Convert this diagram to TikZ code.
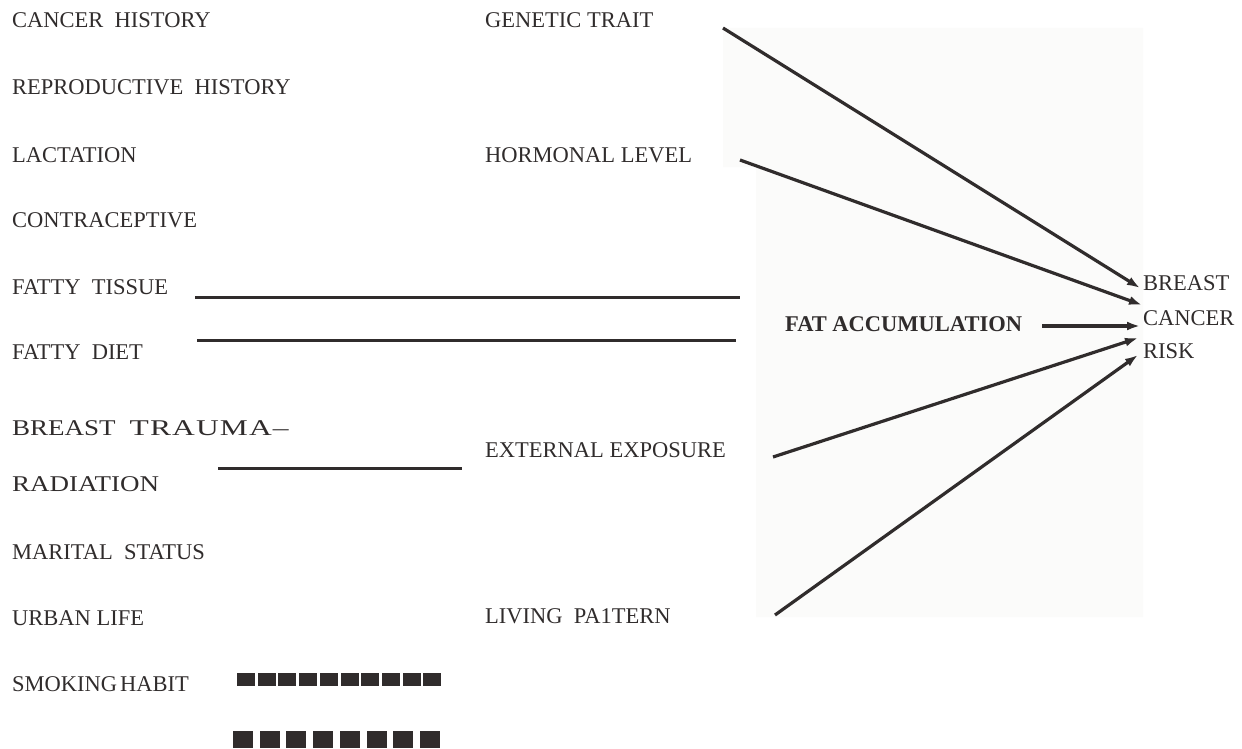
\documentclass[tikz,border=0pt]{standalone}
\usepackage{fontspec}
\setmainfont{Liberation Serif}
\newfontfamily\widefont[FakeStretch=1.2]{Liberation Serif}
\newfontfamily\widerfont[FakeStretch=1.4,LetterSpace=5]{Liberation Serif}
\usetikzlibrary{arrows.meta,calc}
\definecolor{ink}{RGB}{48,44,44}
\definecolor{scan}{RGB}{251,251,250}
\newcommand\dsp{\hspace{0.5em}}
\begin{document}
\begin{tikzpicture}[x=1pt,y=-1pt,
  lbl/.style={anchor=base west,inner sep=0pt,text=ink,font=\fontsize{22.5}{27}\selectfont},
  widelbl/.style={lbl,font=\fontsize{22.5}{27}\selectfont\widefont},
  boldlbl/.style={lbl,font=\fontsize{22.5}{27}\selectfont\bfseries},
  bar/.style={draw=ink,line width=3pt},
  arr/.style={draw=ink,line width=3.2pt,-{Latex[length=13pt,width=9pt]}},
  sq/.style={fill=ink,draw=none}]
\useasboundingbox (0,0) rectangle (1242,749);
% faint scanned background
\fill[scan] (723,28) -- (1143,28) -- (1143,617) -- (756,617) -- (756,167) -- (723,167) -- cycle;

% left column
\node[lbl] (cancerhist) at (12,28) {CANCER\dsp HISTORY};
\node[lbl] (repro) at (12,95) {REPRODUCTIVE\dsp HISTORY};
\node[lbl] (lact) at (12,162) {LACTATION};
\node[lbl] (contra) at (12,227) {CONTRACEPTIVE};
\node[lbl] (ftissue) at (12,294) {FATTY\dsp TISSUE};
\node[lbl] (fdiet) at (12,359) {FATTY\dsp DIET};
\node[widelbl] (trauma) at (12,435) {BREAST\hspace{14pt}{\widerfont TRAUMA–}};
\node[widelbl] (radiation) at (12,491) {RADIATION};
\node[lbl] (marital) at (12,559) {MARITAL\dsp STATUS};
\node[lbl] (urban) at (12,625) {URBAN LIFE};
\node[lbl] (smoking) at (12,691) {SMOKING\hspace{3pt}HABIT};

% middle column
\node[lbl] (genetic) at (485,28) {GENETIC TRAIT};
\node[lbl] (hormonal) at (485,162) {HORMONAL LEVEL};
\node[lbl] (external) at (485,457) {EXTERNAL EXPOSURE};
\node[lbl] (living) at (485,623) {LIVING\dsp PA1TERN};

% right side
\node[boldlbl] (fat) at (785,331) {FAT ACCUMULATION};
\node[lbl] (rb) at (1143,290) {BREAST};
\node[lbl] (rc) at (1143,325) {CANCER};
\node[lbl] (rr) at (1143,358) {RISK};

% plain lines
\coordinate (ft1) at (195,297); \coordinate (ft2) at (740,297);
\coordinate (fd1) at (197,340); \coordinate (fd2) at (736,340);
\coordinate (ra1) at (218,468); \coordinate (ra2) at (462,468);
\draw[bar] (ft1) -- (ft2);
\draw[bar] (fd1) -- (fd2);
\draw[bar] (ra1) -- (ra2);

% arrows
\coordinate (s1) at (723,28);  \coordinate (t1) at (1140,288);
\coordinate (s2) at (740,160); \coordinate (t2) at (1142,305);
\coordinate (s3) at (1042,326); \coordinate (t3) at (1140,326);
\coordinate (s4) at (773,457); \coordinate (t4) at (1138,338);
\coordinate (s5) at (775,615); \coordinate (t5) at (1138,355);
\draw[arr] (s1) -- (t1);
\draw[arr] (s2) -- (t2);
\draw[arr] (s3) -- (t3);
\draw[arr] (s4) -- (t4);
\draw[arr] (s5) -- (t5);

% smoking habit squares
\foreach \i in {0,...,9} \fill[sq] (237+\i*20.7,673) rectangle ++(18,13);
\foreach \i in {0,...,7} \fill[sq] (233+\i*26.7,731) rectangle ++(20,17);
\end{tikzpicture}
\end{document}
